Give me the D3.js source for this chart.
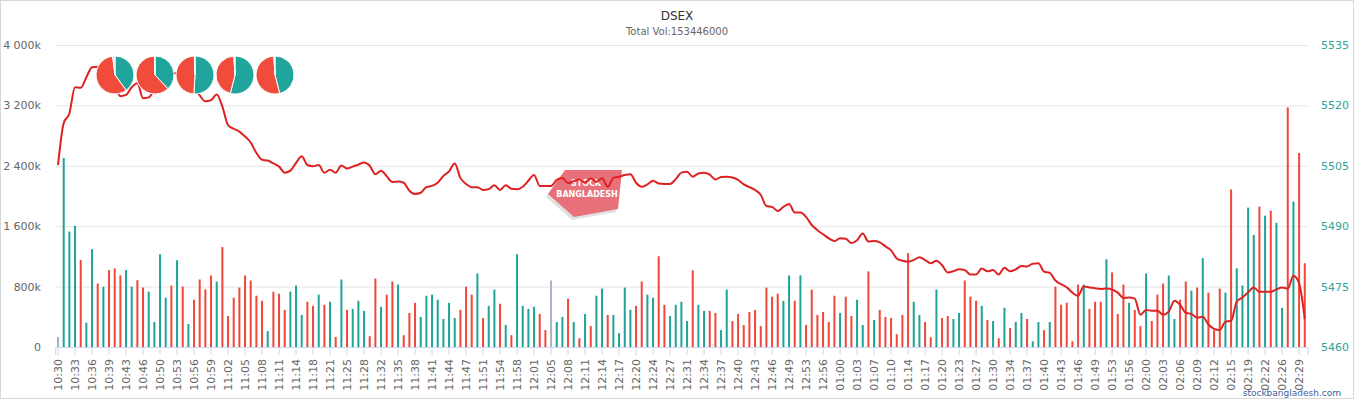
<!DOCTYPE html>
<html>
<head>
<meta charset="utf-8">
<script src="https://cdn.jsdelivr.net/npm/d3@7"></script>
<style>
  body { margin: 0; background: #fff; }
  text { font-family: "DejaVu Sans", Verdana, sans-serif; }
</style>
</head>
<body>
<div id="chart"></div>
<script>
// time of each snapshot (category axis)
var times = [
  "10:30","10:31","10:32","10:33","10:34","10:35","10:36","10:37","10:38","10:39","10:40","10:42",
  "10:43","10:44","10:45","10:46","10:47","10:49","10:50","10:51","10:52","10:53","10:54","10:55",
  "10:56","10:57","10:58","10:59","11:00","11:01","11:02","11:03","11:04","11:05","11:06","11:07",
  "11:08","11:09","11:10","11:11","11:12","11:13","11:14","11:15","11:17","11:18","11:19","11:20",
  "11:21","11:22","11:24","11:25","11:26","11:27","11:28","11:29","11:31","11:32","11:33","11:34",
  "11:35","11:36","11:37","11:38","11:39","11:40","11:41","11:42","11:43","11:44","11:45","11:46",
  "11:47","11:48","11:50","11:51","11:52","11:53","11:54","11:55","11:57","11:58","11:59","12:00",
  "12:01","12:02","12:04","12:05","12:06","12:07","12:08","12:09","12:10","12:11","12:12","12:13",
  "12:14","12:15","12:16","12:17","12:18","12:19","12:20","12:21","12:23","12:24","12:25","12:26",
  "12:27","12:28","12:30","12:31","12:32","12:33","12:34","12:35","12:36","12:37","12:38","12:39",
  "12:40","12:41","12:42","12:43","12:44","12:45","12:46","12:47","12:48","12:49","12:50","12:52",
  "12:53","12:54","12:55","12:56","12:57","12:59","01:00","01:01","01:02","01:03","01:04","01:06",
  "01:07","01:08","01:09","01:10","01:11","01:13","01:14","01:15","01:16","01:17","01:18","01:19",
  "01:20","01:21","01:22","01:23","01:24","01:26","01:27","01:28","01:29","01:30","01:31","01:33",
  "01:34","01:35","01:36","01:37","01:38","01:39","01:40","01:41","01:42","01:43","01:44","01:45",
  "01:46","01:47","01:48","01:49","01:50","01:52","01:53","01:54","01:55","01:56","01:57","01:59",
  "02:00","02:01","02:02","02:03","02:04","02:05","02:06","02:07","02:08","02:09","02:10","02:11",
  "02:12","02:13","02:14","02:15","02:16","02:18","02:19","02:20","02:21","02:22","02:23","02:25",
  "02:26","02:27","02:28","02:29","02:30"
]

// volume per snapshot, in thousands
var volumeK = [
  134,2503,1529,1605,1153,322,1296,840,800,1019,1042,948,1019,800,885,787,733,331,1229,653,
  814,1149,800,304,626,894,764,948,867,1323,411,653,787,948,881,679,612,210,733,706,
  492,733,814,425,599,545,693,559,599,134,894,492,505,612,478,143,907,532,693,867,
  827,156,451,586,398,679,693,626,371,586,384,492,800,693,974,384,545,760,572,291,
  156,1229,545,505,532,438,224,881,331,398,639,331,116,438,277,679,773,425,425,183,
  787,492,545,867,693,653,1202,559,411,559,599,344,1015,559,478,478,451,224,760,344,
  438,291,465,492,277,787,666,706,612,948,612,948,291,760,425,465,331,679,451,666,
  411,626,291,1001,358,492,398,384,170,425,1243,599,425,331,130,760,384,411,371,451,
  881,666,612,545,358,344,116,519,250,331,451,371,76,331,224,331,800,559,586,76,
  827,827,505,599,599,1162,988,438,827,586,490,277,974,344,693,840,948,371,626,867,
  746,787,1176,720,224,773,720,2087,1042,814,1846,1484,1860,1739,1806,1645,519,3174,1927,2570,
  1109
]

// bar direction: u = up (teal), d = down (red), n = unchanged (grey)
var direction = (
  "nuuuduudud" + "dduudduuuu" + "dududdddud" + "dddddddudd" + "duuuddudud" +
  "uduuuddudd" + "uddduuuuuu" + "uddduduudu" + "duuuuddnuu" + "dududuuduu" +
  "uudduudduu" + "uuduudduud" + "dddddddduu" + "duddddddud" + "duududdddd" +
  "duuddudduu" + "dddudududu" + "uduududddd" + "dudddudddu" + "dduddduudd" +
  "ududdduduu" + "uududuudud" + "d"
).split("")

// DSEX index at each snapshot
var dsex = [
  5505.2,5515.6,5518,5524.5,5524.4,5527,5529.5,5529.6,5529.5,5528.5,
  5525,5522.3,5522.6,5524.5,5525.5,5521.8,5522,5524,5527,5528,
  5528,5528,5527.5,5527,5525,5522.5,5521,5521.3,5522.7,5519.7,
  5515.1,5514.2,5513.5,5512.3,5510.8,5508.2,5506.5,5506.3,5505.6,5504.8,
  5503.3,5503.8,5505.7,5507.4,5505.2,5504.9,5505.2,5503.3,5504,5503.3,
  5505.1,5504.3,5504.8,5505.3,5505.8,5505,5502.9,5503.8,5502.4,5501,
  5501.1,5500.8,5498.8,5498,5498.3,5499.7,5500,5500.8,5502.5,5503.6,
  5505.6,5502,5500.5,5499.7,5499.7,5499,5499.2,5500.2,5499,5500.2,
  5499.3,5499.2,5499.8,5501.3,5502.7,5500,5500,5500,5501.5,5502,
  5500.7,5501.2,5501.6,5500.8,5501.9,5501,5501.9,5499.8,5502,5502.3,
  5502.7,5502.9,5500.8,5499.8,5500.4,5501.3,5500.6,5500.5,5500.5,5501.7,
  5503.3,5503.5,5502.3,5503.1,5503.3,5502.8,5501.6,5502.2,5502.3,5502.1,
  5501.5,5500.4,5499.7,5499,5497.8,5495,5494.8,5493.8,5494.8,5495.5,
  5493.4,5493.4,5492.3,5490.3,5489,5488,5487,5486.3,5487,5486.9,
  5485.8,5486.5,5488.2,5486.2,5486.3,5486,5485,5484,5482,5481.4,
  5481.2,5481.6,5482.3,5481.6,5480.8,5481.4,5480.3,5478.5,5478.8,5479.3,
  5479.1,5478,5478,5479.5,5478.8,5479.1,5478,5479.7,5478.8,5479.3,
  5480.1,5480,5480.7,5480.8,5478.7,5478.4,5476.5,5475.6,5474.8,5473.5,
  5472.7,5475,5474.8,5474.6,5474.4,5474.5,5474.3,5473.5,5472.2,5472.3,
  5472,5468,5469.2,5469,5469,5468,5468.8,5471.5,5470.5,5468.5,
  5468.2,5467.3,5467.5,5465.6,5464.5,5464.2,5466.3,5466.5,5471.3,5472.3,
  5473.6,5474.8,5473.7,5473.7,5473.7,5474.3,5474.8,5474.5,5477.7,5475.8,
  5467
]

var volumeTicks = [0, 800000, 1600000, 2400000, 3200000, 4000000]
var indexTicks = [5460, 5475, 5490, 5505, 5520, 5535]

// buyer / seller share pies (percent)
var pieUp = [40, 38, 51, 54, 46]
var pieDown = [58, 61.5, 48.5, 45, 53]
var pieFlat = [2, 0.5, 0.5, 1, 1]

var totalVolume = 153446000

var svgSize = { width: 1354, height: 399 }
var plot = { left: 55.2, right: 1307.6, top: 45, bottom: 347 }

var colors = { u: "#1fa397", d: "#f0473a", n: "#aab3c3" }
var pieColors = ["#1fa59b", "#f04b3b", "#d8dde4"]

var svg = d3.select("#chart")
    .append("svg")
    .attr("width", svgSize.width)
    .attr("height", svgSize.height)

svg.append("rect")
    .attr("x", 0.5).attr("y", 0.5)
    .attr("width", svgSize.width - 1).attr("height", svgSize.height - 1)
    .attr("fill", "#fff").attr("stroke", "#d8d8d8")

svg.append("text")
    .attr("x", svgSize.width / 2).attr("y", 20)
    .attr("text-anchor", "middle")
    .attr("font-size", 12).attr("fill", "#333")
    .text("DSEX")

svg.append("text")
    .attr("x", svgSize.width / 2).attr("y", 35)
    .attr("text-anchor", "middle")
    .attr("font-size", 10).attr("fill", "#666")
    .text("Total Vol:" + totalVolume)

var xScale = d3.scaleBand()
    .domain(times)
    .range([plot.left, plot.right])

var yVol = d3.scaleLinear()
    .domain([0, 4000000])
    .range([plot.bottom, plot.top])

var yIdx = d3.scaleLinear()
    .domain([5460, 5535])
    .range([plot.bottom, plot.top])

var cx = t => xScale(t) + xScale.bandwidth() / 2

// grid
svg.append("g")
    .attr("transform", `translate(${plot.left}, 0)`)
    .call(d3.axisLeft(yVol).tickValues(volumeTicks).tickSize(-(plot.right - plot.left)).tickFormat(""))
    .call(g => g.select(".domain").remove())
    .call(g => g.selectAll("line").attr("stroke", "#e6e6e6"))

// left axis (volume)
var fmtK = d => d === 0 ? "0" : d3.format(",")(d / 1000).replace(/,/g, " ") + "k"
svg.append("g")
    .attr("transform", "translate(41, 0)")
    .call(d3.axisLeft(yVol).tickValues(volumeTicks).tickSize(0).tickPadding(0).tickFormat(fmtK))
    .call(g => g.select(".domain").remove())
    .call(g => g.selectAll("text").attr("font-size", 11).attr("fill", "#666")
        .attr("font-family", "DejaVu Sans, Verdana, sans-serif"))

// right axis (index)
svg.append("g")
    .attr("transform", "translate(1321, 0)")
    .call(d3.axisRight(yIdx).tickValues(indexTicks).tickSize(0).tickPadding(0).tickFormat(d3.format("d")))
    .call(g => g.select(".domain").remove())
    .call(g => g.selectAll("text").attr("font-size", 11).attr("fill", "#2fa39a")
        .attr("font-family", "DejaVu Sans, Verdana, sans-serif"))

// watermark
var mark = svg.append("g")
mark.append("polygon")
    .attr("points", "546,197 563,173 620,173 616,212 572,220")
    .attr("fill", "#000").attr("opacity", 0.12)
mark.append("polygon")
    .attr("points", "548,194 565,170 622,170 618,209 574,217")
    .attr("fill", "#e8707a")
mark.append("text")
    .attr("x", 586).attr("y", 186)
    .attr("text-anchor", "middle").attr("font-size", 8).attr("font-weight", "bold")
    .attr("fill", "#fff").text("STOCK")
mark.append("text")
    .attr("x", 587).attr("y", 197)
    .attr("text-anchor", "middle").attr("font-size", 8).attr("font-weight", "bold")
    .attr("fill", "#fff").text("BANGLADESH")

// volume bars
var bars = times.map((t, i) => ({ time: t, vol: volumeK[i] * 1000, dir: direction[i] }))
svg.append("g")
    .selectAll("rect")
    .data(bars)
    .enter()
    .append("rect")
    .attr("x", d => cx(d.time) - 1)
    .attr("width", 2)
    .attr("y", d => yVol(d.vol))
    .attr("height", d => plot.bottom - yVol(d.vol))
    .attr("fill", d => colors[d.dir])

// x axis
var xAxis = d3.axisBottom(xScale)
    .tickValues(times.filter((t, i) => i % 3 === 0))
    .tickSize(8)
    .tickPadding(0)
svg.append("g")
    .attr("transform", `translate(0, ${plot.bottom})`)
    .call(xAxis)
    .call(g => g.select(".domain").attr("stroke", "#ccd6eb"))
    .call(g => g.selectAll(".tick line").attr("stroke", "#ccd6eb"))
    .call(g => g.selectAll("text")
        .attr("font-size", 11).attr("fill", "#666")
        .attr("font-family", "DejaVu Sans, Verdana, sans-serif")
        .attr("transform", "rotate(-90)")
        .attr("text-anchor", "end")
        .attr("x", -12).attr("y", 0).attr("dy", "0.35em"))

// index line
var line = d3.line()
    .x((d, i) => cx(times[i]))
    .y(d => yIdx(d))
    .curve(d3.curveMonotoneX)

svg.append("path")
    .datum(dsex)
    .attr("d", line)
    .attr("fill", "none")
    .attr("stroke", "#de2222")
    .attr("stroke-width", 2)

// pies
var pie = d3.pie().sort(null)
var arc = d3.arc().innerRadius(0).outerRadius(19)
pieUp.forEach((up, k) => {
    var g = svg.append("g").attr("transform", `translate(${115 + 40 * k}, 75)`)
    g.selectAll("path")
        .data(pie([up, pieDown[k], pieFlat[k]]))
        .enter()
        .append("path")
        .attr("d", arc)
        .attr("fill", (d, j) => pieColors[j])
        .attr("stroke", "#fff")
        .attr("stroke-width", 1)
})

svg.append("text")
    .attr("x", 1341).attr("y", 396)
    .attr("text-anchor", "end")
    .attr("font-size", 9).attr("fill", "#43609c")
    .text("stockbangladesh.com")
</script>
</body>
</html>
